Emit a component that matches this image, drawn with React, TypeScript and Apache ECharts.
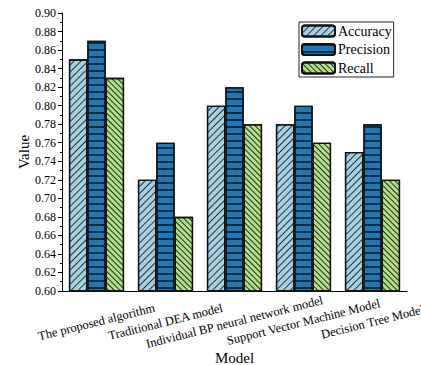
import React, { useEffect, useRef } from "react";
import * as echarts from "echarts";

const categories = [
  "The proposed algorithm",
  "Traditional DEA model",
  "Individual BP neural network model",
  "Support Vector Machine Model",
  "Decision Tree Model",
];
const accuracy = [0.85, 0.72, 0.8, 0.78, 0.75];
const precision = [0.87, 0.76, 0.82, 0.8, 0.78];
const recall = [0.83, 0.68, 0.78, 0.76, 0.72];

const FONT = "'Liberation Serif', 'Times New Roman', serif";

export default function App() {
  const ref = useRef<HTMLDivElement>(null);
  useEffect(() => {
    if (!ref.current) return;
    const chart = echarts.init(ref.current, undefined, { renderer: "svg" });
    const border = { borderColor: "#111", borderWidth: 1.3 };
    chart.setOption({
      animation: false,
      backgroundColor: "#fff",
      grid: { left: 62, right: 14, top: 13, bottom: 74, outerBoundsMode: "none", containLabel: false },
      legend: {
        orient: "vertical",
        left: 299,
        top: 22,
        itemWidth: 33,
        itemHeight: 11,
        itemGap: 4.5,
        padding: [2, 2, 2, 2],
        borderColor: "#222",
        borderWidth: 1,
        textStyle: { fontFamily: FONT, fontSize: 14, color: "#000", padding: [0, 0, 0, -2] },
        data: ["Accuracy", "Precision", "Recall"],
      },
      xAxis: [
        {
          type: "category",
          data: categories,
          name: "Model",
          nameLocation: "middle",
          nameGap: 59,
          nameMoveOverlap: false,
          nameTextStyle: { fontFamily: FONT, fontSize: 15, color: "#000" },
          axisLine: { lineStyle: { color: "#000", width: 1 } },
          axisTick: { alignWithLabel: true, length: 5, lineStyle: { color: "#000" } },
          axisLabel: {
            interval: 0,
            rotate: 14,
            align: "center",
            verticalAlign: "middle",
            margin: 31,
            fontFamily: FONT,
            fontSize: 12.5,
            color: "#000",
            hideOverlap: false,
          },
        },
        {
          type: "category",
          data: categories,
          position: "bottom",
          axisLine: { show: false },
          axisTick: { length: 3, lineStyle: { color: "#000" } },
          axisLabel: { show: false },
        },
      ],
      yAxis: {
        type: "value",
        min: 0.6,
        max: 0.9,
        interval: 0.02,
        name: "Value",
        nameLocation: "middle",
        nameGap: 31,
        nameMoveOverlap: false,
        nameTextStyle: { fontFamily: FONT, fontSize: 15, color: "#000" },
        axisLine: { show: true, lineStyle: { color: "#000", width: 1 } },
        axisTick: { show: true, length: 4, lineStyle: { color: "#000" } },
        minorTick: { show: true, splitNumber: 2, length: 2, lineStyle: { color: "#000" } },
        splitLine: { show: false },
        axisLabel: {
          fontFamily: FONT,
          fontSize: 12,
          color: "#000",
          margin: 6,
          formatter: (v: number) => v.toFixed(2),
        },
      },
      series: [
        {
          name: "Accuracy",
          type: "bar",
          data: accuracy,
          barGap: "0%",
          barCategoryGap: "20%",
          itemStyle: {
            color: "#a6d0e4",
            ...border,
            decal: {
              symbol: "rect",
              symbolSize: 1,
              color: "rgba(0,0,0,0.75)",
              dashArrayX: [1, 0],
              dashArrayY: [1, 4],
              rotation: -Math.PI / 4,
            },
          },
        },
        {
          name: "Precision",
          type: "bar",
          data: precision,
          barGap: "0%",
          barCategoryGap: "20%",
          itemStyle: {
            color: "#1f78b4",
            ...border,
            decal: {
              symbol: "rect",
              symbolSize: 1,
              color: "rgba(10,30,50,0.85)",
              dashArrayX: [1, 0],
              dashArrayY: [1.3, 4.4],
              rotation: 0,
            },
          },
        },
        {
          name: "Recall",
          type: "bar",
          data: recall,
          barGap: "0%",
          barCategoryGap: "20%",
          itemStyle: {
            color: "#b2df8a",
            ...border,
            decal: {
              symbol: "rect",
              symbolSize: 1,
              color: "rgba(0,0,0,0.8)",
              dashArrayX: [1, 0],
              dashArrayY: [1, 3],
              rotation: Math.PI / 4,
            },
          },
        },
      ],
    });
    return () => chart.dispose();
  }, []);
  return <div ref={ref} style={{ width: 421, height: 365, position: "absolute", left: 0, top: 0 }} />;
}
